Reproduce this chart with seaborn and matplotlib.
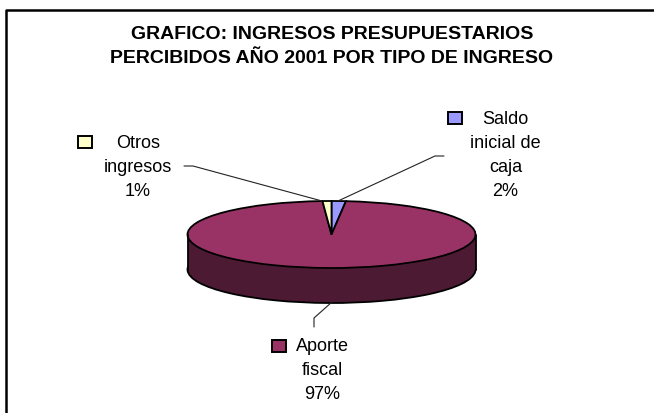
import numpy as np
import matplotlib
matplotlib.use("Agg")
import matplotlib.pyplot as plt
from matplotlib.patches import Rectangle
import seaborn as sns

categories = ["Saldo inicial de caja", "Aporte fiscal", "Otros ingresos"]
shares = [1.6, 97.4, 1.0]
colors = ["#9999FF", "#993366", "#FFFFCC"]
side_colors = ["#4D4D80", "#4D1A33", "#808066"]
title = "GRAFICO: INGRESOS PRESUPUESTARIOS\nPERCIBIDOS AÑO 2001 POR TIPO DE INGRESO"

W, H = 654, 414
CX, CY = 331.5, 235.5   # pie centre in pixels
RX, RY = 144, 33.5      # flattened radius
DEPTH = 35 / RY

sns.set_theme(style="white")
plt.rcParams["font.family"] = ["Liberation Sans", "DejaVu Sans"]

fig = plt.figure(figsize=(W / 100, H / 100), dpi=100, facecolor="white")

# pie axes, one data unit = one radius, squashed to look tilted
ax = fig.add_axes([0, 0, 1, 1])
edge = {"edgecolor": "black", "linewidth": 1.3}
ax.pie(shares, colors=side_colors, startangle=90, counterclock=False,
       center=(0, -DEPTH), wedgeprops=edge)
ax.fill_between([-1, 1], [-DEPTH, -DEPTH], [0, 0], color=side_colors[1], linewidth=0)
ax.plot([-1, -1], [0, -DEPTH], color="black", lw=1.3)
ax.plot([1, 1], [0, -DEPTH], color="black", lw=1.3)
ax.pie(shares, colors=colors, startangle=90, counterclock=False, wedgeprops=edge)
ax.set_aspect("auto")
ax.set_xlim(-CX / RX, (W - CX) / RX)
ax.set_ylim((CY - H) / RY, CY / RY)

# overlay in pixel coordinates for frame, labels and leader lines
ov = fig.add_axes([0, 0, 1, 1], facecolor="none")
ov.set_xlim(0, W)
ov.set_ylim(H, 0)
ov.axis("off")

# only the top and left sides of the frame are inside the picture
ov.plot([6, 6, W], [H, 10.5, 10.5], color="black", lw=1.8)
ov.text(332, 46.5, title, ha="center", va="center", fontsize=14, fontweight="bold",
        linespacing=1.5, color="black")


def pct(value):
    return f"{value:.0f}%"


label_size = 13
spacing = 1.55
ov.text(138, 167.5, f"Otros\ningresos\n{pct(shares[2])}", ha="center", va="center",
        fontsize=label_size, linespacing=spacing, color="black")
ov.text(505.5, 155.5, f"Saldo\ninicial de\ncaja\n{pct(shares[0])}", ha="center", va="center",
        fontsize=label_size, linespacing=spacing, color="black")
ov.text(322, 370.5, f"Aporte\nfiscal\n{pct(shares[1])}", ha="center", va="center",
        fontsize=label_size, linespacing=spacing, color="black")

for x, y, c in [(85, 143, colors[2]), (454.5, 119, colors[0]), (279, 346.5, colors[1])]:
    ov.add_patch(Rectangle((x - 7, y - 6), 14, 12, facecolor=c, edgecolor="black", lw=1.4))

ov.plot([184, 193, 322], [167, 167, 202], color="#222222", lw=0.8)
ov.plot([444, 435, 338], [157, 157, 202], color="#222222", lw=0.8)
ov.plot([332, 314, 314], [303, 319, 328], color="#222222", lw=0.8)

fig.savefig("out.png", dpi=100)
